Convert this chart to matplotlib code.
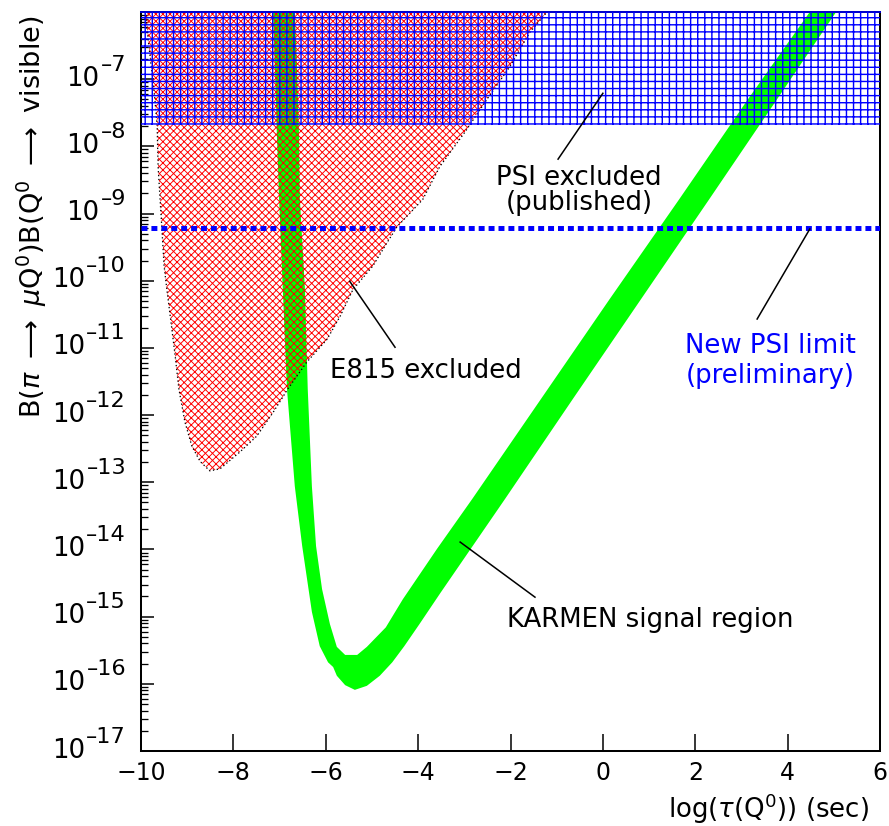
import numpy as np
import matplotlib
matplotlib.use("Agg")
import matplotlib.pyplot as plt
from matplotlib.ticker import LogLocator, NullFormatter, FixedLocator

plt.rcParams['font.family'] = 'DejaVu Sans'
plt.rcParams['mathtext.fontset'] = 'dejavusans'

# x is log10(tau / sec), y values stored as log10 of the branching ratio product
psi_published = 2.1e-8     # PSI excluded (published): everything above
psi_new = 6.0e-10          # new PSI limit (preliminary)

# E815 excluded region, left edge top->bottom then right edge bottom->top
e815_x = [-9.91, -9.70, -9.65, -9.63, -9.55, -9.50, -9.44, -9.35, -9.26, -9.18,
          -9.05, -8.90, -8.72, -8.51, -8.29, -7.86, -7.49, -7.14, -6.82, -6.41,
          -5.97, -5.69, -5.41, -4.98, -4.67, -4.46, -3.90, -3.53, -2.99, -2.51,
          -2.01, -1.58, -1.21]
e815_logy = [-6.0, -7.30, -7.70, -8.30, -9.20, -9.78, -10.13, -10.62, -11.12, -11.61,
             -12.10, -12.46, -12.69, -12.83, -12.80, -12.55, -12.31, -11.96, -11.61, -11.21,
             -10.87, -10.53, -10.13, -9.78, -9.43, -9.20, -8.79, -8.30, -7.79, -7.30,
             -6.81, -6.30, -6.0]

# KARMEN signal band: outer edge and inner edge
karmen_outer_x = [-7.14, -7.10, -7.06, -7.01, -6.93, -6.84, -6.67, -6.51, -6.30, -6.13,
                  -5.95, -5.84, -5.76, -5.58, -5.37, -5.11, -4.83, -4.56, -4.30, -3.97,
                  -3.52, -3.01, -2.12, -0.65, 0.83, 2.30, 3.77, 5.05]
karmen_outer_logy = [-6.0, -6.85, -7.79, -8.79, -10.13, -11.61, -13.06, -13.95, -14.93, -15.44,
                     -15.68, -15.75, -15.88, -16.02, -16.09, -16.03, -15.88, -15.68, -15.44, -15.11,
                     -14.65, -14.14, -13.25, -11.76, -10.27, -8.79, -7.30, -6.0]
karmen_inner_x = [4.48, 3.14, 1.65, 0.15, -1.34, -2.83, -3.59, -4.33, -4.70, -5.11,
                  -5.32, -5.58, -5.76, -5.91, -6.08, -6.21, -6.30, -6.39, -6.45, -6.56,
                  -6.58, -6.62, -6.67]
karmen_inner_logy = [-6.0, -7.30, -8.79, -10.27, -11.76, -13.25, -13.99, -14.74, -15.16, -15.45,
                     -15.57, -15.57, -15.45, -15.11, -14.59, -13.95, -13.06, -11.61, -10.13, -8.79,
                     -7.79, -6.85, -6.0]

x_ticks = [-10, -8, -6, -4, -2, 0, 2, 4, 6]
y_label_decades = list(range(-17, -6))

W, H, DPI = 889, 827, 85
fig = plt.figure(figsize=(W / DPI, H / DPI), dpi=DPI)
ax = fig.add_axes([141 / W, 75 / H, 739 / W, 739 / H])
ax.set_yscale('log')
ax.set_xlim(-10, 6)
ax.set_ylim(1e-17, 1e-6)


def hatch_width(artist, w):
    # per-artist hatch width where the matplotlib version allows it
    if hasattr(artist, 'set_hatch_linewidth'):
        artist.set_hatch_linewidth(w)


# KARMEN band
kx = karmen_outer_x + karmen_inner_x
ky = 10.0 ** np.array(karmen_outer_logy + karmen_inner_logy)
ax.fill(kx, ky, color='#00ff00', lw=0, zorder=1)

# E815 hatched region with dotted outline
ey = 10.0 ** np.array(e815_logy)
plt.rcParams['hatch.linewidth'] = 0.8
red = ax.fill(e815_x, ey, facecolor='none', edgecolor='#ff0000', hatch='xxxx', lw=0, zorder=2)[0]
hatch_width(red, 0.8)
ax.plot(e815_x, ey, color='black', lw=1.1, ls=(0, (1, 2)), zorder=2.2)

# PSI published exclusion
plt.rcParams['hatch.linewidth'] = 1.2
blue = ax.fill_between(ax.get_xlim(), psi_published, 1e-6, facecolor='none',
                       edgecolor='#0000ff', hatch='++', lw=0, zorder=3)
hatch_width(blue, 1.2)

# new PSI limit
ax.axhline(psi_new, color='#0000ff', lw=4.2, dashes=(1.2, 0.8), zorder=4)

# labels with leader lines
lab = dict(fontsize=22, ha='center', va='center', zorder=5)
ax.text(-0.52, 10 ** -8.64, "PSI excluded\n(published)", linespacing=0.95, **lab)
ax.plot([-0.97, 0.0], [10 ** -8.19, 10 ** -7.21], color='k', lw=1.3, zorder=5)

ax.text(-3.83, 10 ** -11.33, "E815 excluded", **lab)
ax.plot([-5.48, -4.50], [10 ** -10.01, 10 ** -10.99], color='k', lw=1.3, zorder=5)

ax.text(3.62, 10 ** -11.18, "New PSI limit\n(preliminary)", color='#0000ff',
        linespacing=1.2, **lab)
ax.plot([3.34, 4.48], [10 ** -10.57, 10 ** -9.23], color='k', lw=1.3, zorder=5)

ax.text(1.02, 10 ** -15.04, "KARMEN signal region", **lab)
ax.plot([-3.09, -1.47], [10 ** -13.89, 10 ** -14.71], color='k', lw=1.3, zorder=5)

# axes styling
for s in ax.spines.values():
    s.set_linewidth(1.7)
ax.spines['top'].set_color('#0000cc')

ax.xaxis.set_major_locator(FixedLocator(x_ticks))
ax.tick_params(axis='x', which='major', direction='in', length=14, width=1.3,
               labelsize=20, pad=8, top=False)
ax.tick_params(axis='x', which='minor', bottom=False, top=False)
ax.yaxis.set_major_locator(LogLocator(base=10, numticks=20))
ax.yaxis.set_minor_locator(LogLocator(base=10, subs=np.arange(2, 10), numticks=20))
ax.yaxis.set_major_formatter(NullFormatter())
ax.yaxis.set_minor_formatter(NullFormatter())
ax.tick_params(axis='y', which='major', direction='in', length=11, width=1.3, right=False)
ax.tick_params(axis='y', which='minor', direction='in', length=6, width=1.1, right=False)

# y tick labels as 10 with a raised exponent
for d in y_label_decades:
    ex = ax.annotate("\u2013%d" % (-d), xy=(0, 10.0 ** d),
                     xycoords=('axes fraction', 'data'), xytext=(-15, 5.5),
                     textcoords='offset pixels', ha='right', va='bottom', fontsize=19)
    ax.annotate("10", xy=(0, 0), xycoords=ex, xytext=(-1, 9),
                textcoords='offset pixels', ha='right', va='top', fontsize=22)

ax.set_xlabel(r"log($\tau$(Q$^0$)) (sec)", fontsize=22, ha='right')
ax.xaxis.set_label_coords(0.985, -0.054)
ax.set_ylabel(r"B($\pi\ \longrightarrow\ \mu$Q$^0$)B(Q$^0$$\ \longrightarrow\ $visible)",
              fontsize=23, ha='right')
ax.yaxis.set_label_coords(-0.124, 0.997)

fig.savefig("out.png", dpi=DPI)
